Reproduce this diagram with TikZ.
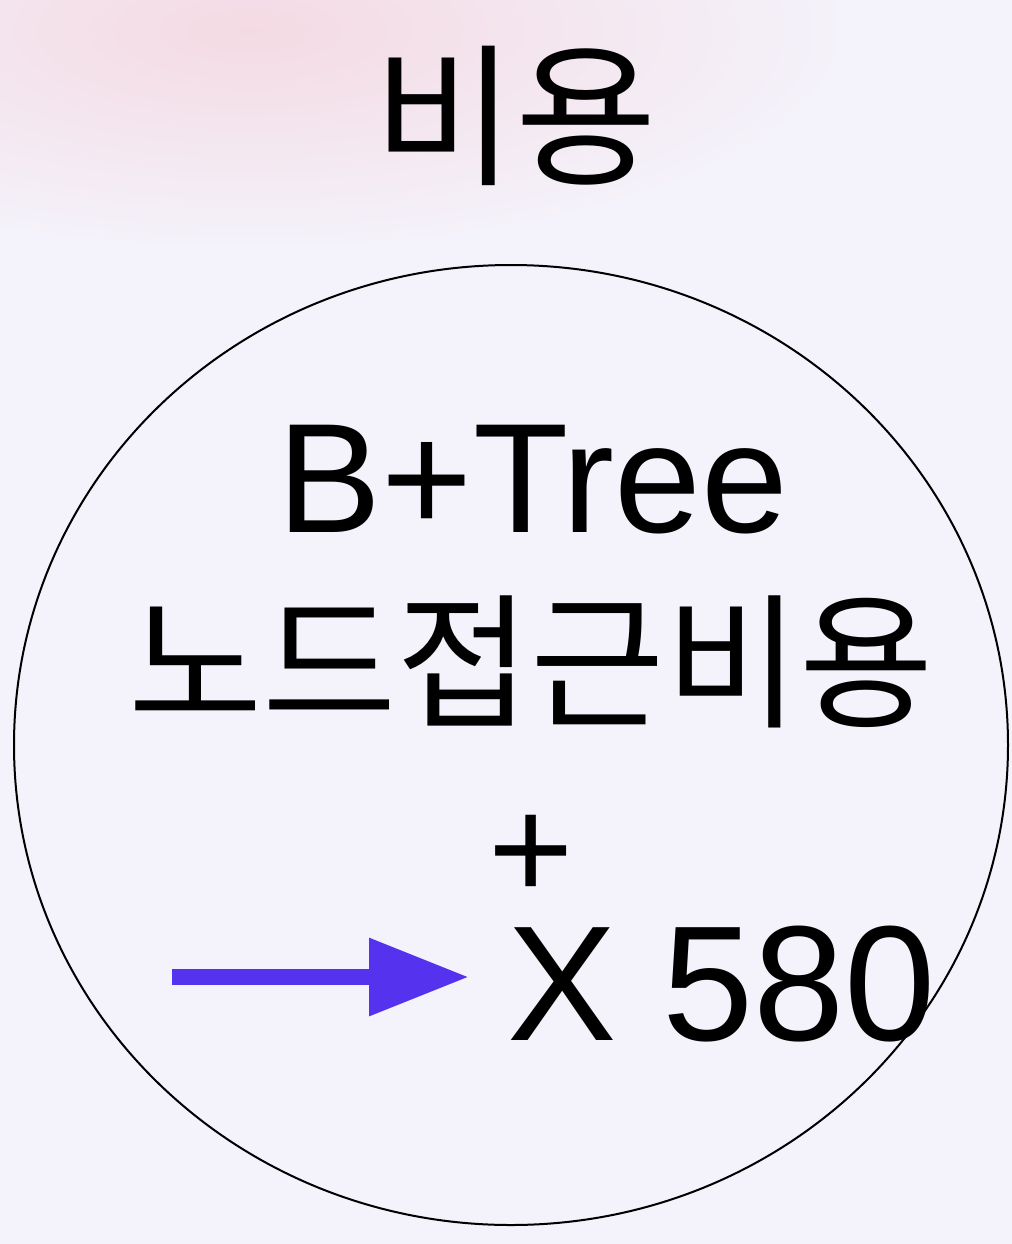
\documentclass[tikz,border=0pt]{standalone}
\usepackage{fontspec}
\setmainfont{Liberation Sans}
\newfontfamily\kr{Noto Sans CJK KR}
\usetikzlibrary{arrows.meta, shapes.geometric, positioning}

\definecolor{bgcol}{HTML}{F4F2FA}
\definecolor{pinkcol}{HTML}{F4DAE3}
\definecolor{arrowcol}{HTML}{5533EE}

\begin{document}
\begin{tikzpicture}[%
    x=0.5pt, y=-0.5pt,
    >={Triangle[length=50pt, width=37pt]},
    txt/.style={inner sep=0pt, text=black},
    big/.style={txt, font=\fontsize{78pt}{78pt}\selectfont},
    huge/.style={txt, font=\fontsize{82pt}{82pt}\selectfont},
    hangul/.style={txt, font=\kr\fontsize{73pt}{73pt}\selectfont}
  ]

  % background
  \useasboundingbox (0,0) rectangle (1012,1244);
  \fill[bgcol] (0,0) rectangle (1012,1244);
  \begin{scope}
    \clip (0,0) rectangle (1012,1244);
    \fill[inner color=pinkcol, outer color=bgcol] (-350,-190) rectangle (850,250);
  \end{scope}

  \node[hangul, font=\kr\fontsize{77pt}{77pt}\selectfont] (title) at (515,116) {비용};

  \node[ellipse, draw, line width=1pt, minimum width=497pt,
        minimum height=480pt, inner sep=0pt] (cost) at (511,745) {};

  \node[big, anchor=base] (tree) at (533,532) {B+Tree};
  \node[hangul] (access) at (531,662) {노드접근비용};
  \node[txt, font=\fontsize{73pt}{73pt}\selectfont] (plus) at (531,857) {+};
  \node[huge, anchor=base west] (times) at (507,1040) {X 580};

  \coordinate (S) at (172,977);
  \draw[->, arrowcol, line width=8pt, shorten >=19pt] (S) -- (S -| times.west);
\end{tikzpicture}
\end{document}
